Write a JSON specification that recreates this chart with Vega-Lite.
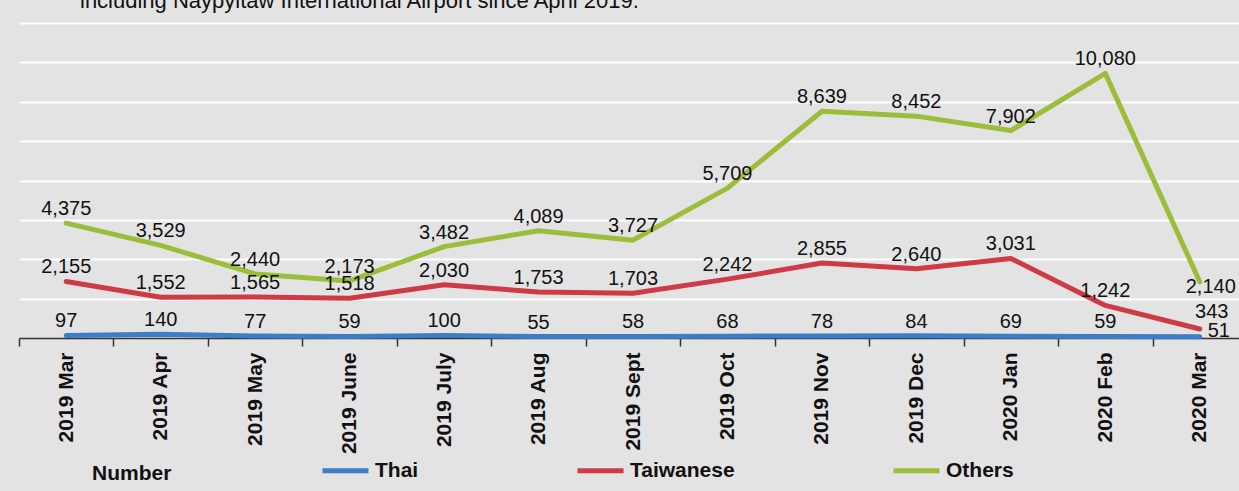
{
  "$schema": "https://vega.github.io/schema/vega-lite/v6.json",
  "autosize": {"type": "none"},
  "padding": {"left": 19, "top": 23, "right": 0, "bottom": 153},
  "width": 1228,
  "height": 315,
  "background": "#e3e3e3",
  "title": {
    "text": "including Naypyitaw International Airport since April 2019.",
    "anchor": "start",
    "frame": "group",
    "orient": "top",
    "offset": 10,
    "dx": 61,
    "font": "Liberation Sans",
    "fontSize": 22,
    "fontWeight": "normal",
    "color": "#111111"
  },
  "config": {
    "view": {"stroke": null},
    "font": "Liberation Sans"
  },
  "data": {
    "values": [
      {"month": "2019 Mar", "series": "Thai", "value": 97},
      {"month": "2019 Apr", "series": "Thai", "value": 140},
      {"month": "2019 May", "series": "Thai", "value": 77},
      {"month": "2019 June", "series": "Thai", "value": 59},
      {"month": "2019 July", "series": "Thai", "value": 100},
      {"month": "2019 Aug", "series": "Thai", "value": 55},
      {"month": "2019 Sept", "series": "Thai", "value": 58},
      {"month": "2019 Oct", "series": "Thai", "value": 68},
      {"month": "2019 Nov", "series": "Thai", "value": 78},
      {"month": "2019 Dec", "series": "Thai", "value": 84},
      {"month": "2020 Jan", "series": "Thai", "value": 69},
      {"month": "2020 Feb", "series": "Thai", "value": 59},
      {"month": "2020 Mar", "series": "Thai", "value": 51},
      {"month": "2019 Mar", "series": "Taiwanese", "value": 2155},
      {"month": "2019 Apr", "series": "Taiwanese", "value": 1552},
      {"month": "2019 May", "series": "Taiwanese", "value": 1565},
      {"month": "2019 June", "series": "Taiwanese", "value": 1518},
      {"month": "2019 July", "series": "Taiwanese", "value": 2030},
      {"month": "2019 Aug", "series": "Taiwanese", "value": 1753},
      {"month": "2019 Sept", "series": "Taiwanese", "value": 1703},
      {"month": "2019 Oct", "series": "Taiwanese", "value": 2242},
      {"month": "2019 Nov", "series": "Taiwanese", "value": 2855},
      {"month": "2019 Dec", "series": "Taiwanese", "value": 2640},
      {"month": "2020 Jan", "series": "Taiwanese", "value": 3031},
      {"month": "2020 Feb", "series": "Taiwanese", "value": 1242},
      {"month": "2020 Mar", "series": "Taiwanese", "value": 343},
      {"month": "2019 Mar", "series": "Others", "value": 4375},
      {"month": "2019 Apr", "series": "Others", "value": 3529},
      {"month": "2019 May", "series": "Others", "value": 2440},
      {"month": "2019 June", "series": "Others", "value": 2173},
      {"month": "2019 July", "series": "Others", "value": 3482},
      {"month": "2019 Aug", "series": "Others", "value": 4089},
      {"month": "2019 Sept", "series": "Others", "value": 3727},
      {"month": "2019 Oct", "series": "Others", "value": 5709},
      {"month": "2019 Nov", "series": "Others", "value": 8639},
      {"month": "2019 Dec", "series": "Others", "value": 8452},
      {"month": "2020 Jan", "series": "Others", "value": 7902},
      {"month": "2020 Feb", "series": "Others", "value": 10080},
      {"month": "2020 Mar", "series": "Others", "value": 2140}
    ]
  },
  "encoding": {
    "x": {
      "field": "month",
      "type": "nominal",
      "sort": null,
      "bandPosition": 0.5,
      "scale": {"type": "band", "paddingInner": 0, "paddingOuter": 0},
      "axis": {
        "title": null,
        "tickBand": "extent",
        "labelAngle": 270,
        "labelFont": "Liberation Sans",
        "labelFontSize": 21,
        "labelFontWeight": "bold",
        "labelColor": "#111111",
        "labelPadding": 6,
        "tickSize": 8,
        "tickColor": "#333333",
        "tickWidth": 1.5,
        "domainColor": "#333333",
        "domainWidth": 1.5,
        "grid": false
      }
    },
    "y": {
      "field": "value",
      "type": "quantitative",
      "scale": {"domain": [0, 12000], "nice": false},
      "axis": {
        "title": null,
        "values": [1500, 3000, 4500, 6000, 7500, 9000, 10500, 12000],
        "labels": false,
        "ticks": false,
        "domain": false,
        "grid": true,
        "gridColor": "#ffffff",
        "gridWidth": 2,
        "gridOpacity": 1
      }
    }
  },
  "layer": [
    {
      "mark": {"type": "line", "strokeWidth": 5, "strokeJoin": "round", "strokeCap": "round"},
      "encoding": {
        "color": {
          "field": "series",
          "type": "nominal",
          "sort": ["Thai", "Taiwanese", "Others"],
          "scale": {"domain": ["Thai", "Taiwanese", "Others"], "range": ["#3c7dc4", "#cf3a47", "#9cbd3a"]},
          "legend": {
            "orient": "none",
            "legendX": 73,
            "legendY": 422,
            "direction": "horizontal",
            "title": "Number",
            "titleOrient": "left",
            "titleAnchor": "middle",
            "titleBaseline": "top",
            "titleFont": "Liberation Sans",
            "titleFontSize": 21,
            "titleFontWeight": "bold",
            "titleColor": "#111111",
            "titlePadding": 148,
            "labelFont": "Liberation Sans",
            "labelFontSize": 21,
            "labelFontWeight": "bold",
            "labelColor": "#111111",
            "labelOffset": 4,
            "columnPadding": 148,
            "symbolType": "stroke",
            "symbolSize": 2116,
            "symbolStrokeWidth": 5,
            "padding": 0
          }
        }
      }
    },
    {
      "transform": [{"filter": "datum.month !== '2020 Mar'"}],
      "mark": {"type": "text", "align": "center", "baseline": "alphabetic", "dy": -8, "fontSize": 20, "font": "Liberation Sans", "color": "#111111"},
      "encoding": {"text": {"field": "value", "type": "quantitative", "format": ","}}
    },
    {
      "transform": [{"filter": "datum.month === '2020 Mar' && datum.series === 'Others'"}],
      "mark": {"type": "text", "align": "center", "baseline": "alphabetic", "dx": 11, "dy": 11, "fontSize": 20, "font": "Liberation Sans", "color": "#111111"},
      "encoding": {"text": {"field": "value", "type": "quantitative", "format": ","}}
    },
    {
      "transform": [{"filter": "datum.month === '2020 Mar' && datum.series === 'Taiwanese'"}],
      "mark": {"type": "text", "align": "center", "baseline": "alphabetic", "dx": 12, "dy": -11, "fontSize": 20, "font": "Liberation Sans", "color": "#111111"},
      "encoding": {"text": {"field": "value", "type": "quantitative", "format": ","}}
    },
    {
      "transform": [{"filter": "datum.month === '2020 Mar' && datum.series === 'Thai'"}],
      "mark": {"type": "text", "align": "center", "baseline": "alphabetic", "dx": 19, "dy": 0, "fontSize": 20, "font": "Liberation Sans", "color": "#111111"},
      "encoding": {"text": {"field": "value", "type": "quantitative", "format": ","}}
    }
  ]
}
